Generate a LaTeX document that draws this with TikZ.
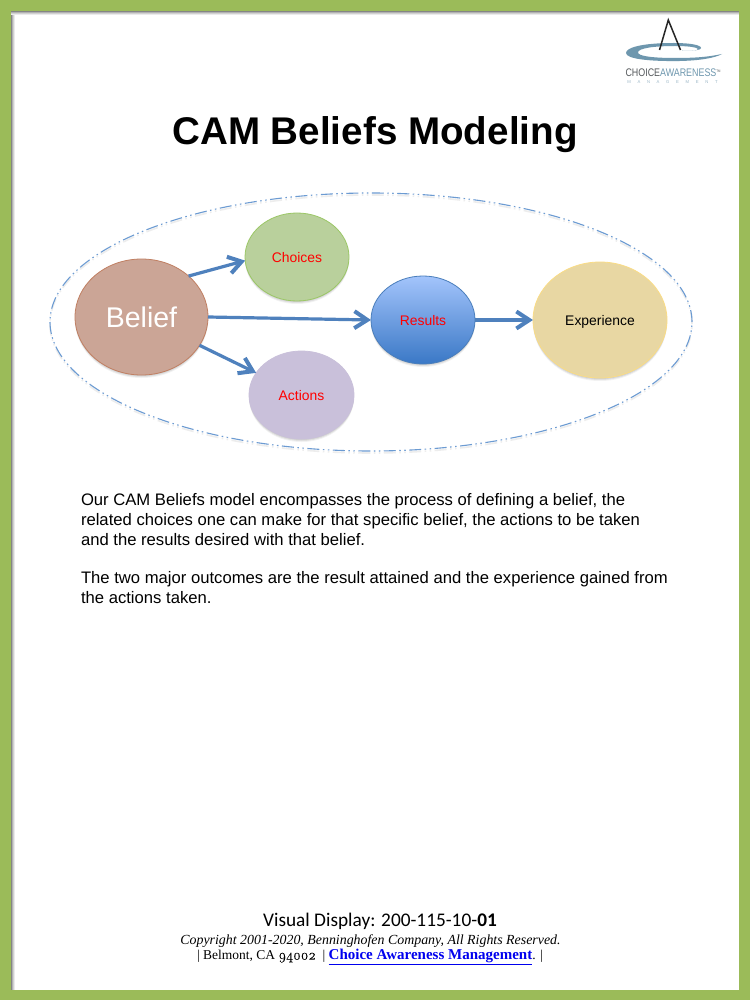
\documentclass[tikz,border=0pt]{standalone}
\usepackage{fontspec}
\setmainfont{Liberation Sans}
\newfontfamily\serifface{Liberation Serif}
\newfontfamily\carlitoface{Carlito}
\newfontfamily\oldnumface{Latin Modern Roman}[Numbers=OldStyle,FakeBold=0.5]
\usetikzlibrary{arrows.meta,shapes.geometric,shadows}
\definecolor{frameGreen}{HTML}{9BBB59}
\definecolor{arrowBlue}{HTML}{4F81BD}
\definecolor{loopBlue}{HTML}{6C9BD2}
\definecolor{logoBlue}{HTML}{6E97AE}
\definecolor{logoGray}{HTML}{55595C}
\definecolor{beliefFill}{HTML}{CBA596}
\definecolor{beliefLine}{HTML}{C07F62}
\definecolor{choiceFill}{HTML}{B9D09C}
\definecolor{choiceLine}{HTML}{9BC766}
\definecolor{actionFill}{HTML}{C9C0DA}
\definecolor{resultTop}{HTML}{A3C4FB}
\definecolor{resultBottom}{HTML}{3A78C6}
\definecolor{resultLine}{HTML}{4A7EBB}
\definecolor{expFill}{HTML}{E8D7A3}
\definecolor{expLine}{HTML}{FADC85}
\definecolor{linkBlue}{HTML}{0000EE}
\tikzset{
  softshadow/.style={
    general shadow={shadow xshift=0pt,shadow yshift=-1pt,fill=black,opacity=.07},
    general shadow={shadow xshift=0pt,shadow yshift=-2pt,fill=black,opacity=.07},
    general shadow={shadow xshift=0pt,shadow yshift=-3pt,fill=black,opacity=.05}},
  bubble/.style={ellipse,inner sep=0pt,outer sep=0pt,line width=.8pt,softshadow,
    font=\fontsize{13.9}{16}\selectfont,text=red,text height=11.7pt,text depth=0pt},
  flow/.style={draw=arrowBlue,line width=3.2pt,-{Straight Barb[length=13pt,width=17pt,line width=4pt]}},
  para/.style={anchor=north west,align=left,inner sep=0pt,outer sep=0pt,font=\fontsize{16.65}{20}\selectfont},
  foot/.style={anchor=center,inner sep=0pt,outer sep=0pt},
  loopline/.style={ellipse,minimum width=642pt,minimum height=258pt,inner sep=0pt,
    dash pattern=on 12pt off 3.5pt on 1.5pt off 3.5pt on 1.5pt off 3.5pt}
}
\begin{document}
\begin{tikzpicture}[x=1pt,y=-1pt]
\useasboundingbox (0,0) rectangle (750,1000);
% page frame
\fill[frameGreen] (0,0) rectangle (750,1000);
\fill[white] (11,11) rectangle (739,990);
\foreach \o/\g in {0/48,1/30,2/18,3/8}{
  \fill[black!\g] (11,11+\o) rectangle (739,12+\o);
  \fill[black!\g] (11+\o,11+\o) rectangle (12+\o,990);
}
% logo
\fill[logoBlue,even odd rule] (674,43) .. controls (640,43) and (626,48) .. (626,53)
   .. controls (626,59) and (650,61.5) .. (680,61)
   .. controls (700,60.5) and (715,58) .. (722,54)
   .. controls (708,57) and (695,58) .. (675,58)
   .. controls (652,58) and (638,56) .. (638,52.5)
   .. controls (638,48) and (655,46) .. (675,46)
   .. controls (690,46) and (697,47.5) .. (698,49)
   .. controls (698,51) and (690,50.5) .. (682,50.5)
   .. controls (695,51) and (701,50) .. (701,48)
   .. controls (701,45) and (690,43) .. (674,43) -- cycle;
\draw[black!85,line width=1.5pt] (659.5,50) -- (668.3,20) -- (680.5,50);
\node[inner sep=0pt,text=logoGray,font=\fontsize{11}{12}\selectfont] (logotext) at (673,72.5) {\scalebox{.81}[1]{CHOICE\textcolor{logoBlue}{AWARENESS}\raisebox{4pt}{\fontsize{3.5}{4}\selectfont TM}}};
\node[inner sep=0pt,text=logoBlue!70,font=\fontsize{4.2}{5}\selectfont] (logosub) at (672.5,82) {M\hspace{6.7pt}A\hspace{6.7pt}N\hspace{6.7pt}A\hspace{6.7pt}G\hspace{6.7pt}E\hspace{6.7pt}M\hspace{6.7pt}E\hspace{6.7pt}N\hspace{6.7pt}T};
% title
\node[inner sep=0pt,font=\bfseries\fontsize{38.6}{44}\selectfont] (title) at (375,135) {CAM Beliefs Modeling};
% enclosing loop
\node[loopline,draw=black!7,line width=1.6pt] (loopshade) at (371,324) {};
\node[loopline,draw=loopBlue,line width=1.1pt] (loop) at (371,322) {};
% bubbles
\node[bubble,minimum width=133pt,minimum height=116pt,fill=beliefFill,draw=beliefLine,text=white,font=\fontsize{28.5}{32}\selectfont,text height=20.5pt] (belief) at (141.5,317) {Belief};
\node[bubble,minimum width=104pt,minimum height=88pt,fill=choiceFill,draw=choiceLine] (choices) at (297,257) {Choices};
\node[bubble,minimum width=105pt,minimum height=88pt,fill=actionFill,draw=actionFill] (actions) at (301.5,395) {Actions};
\node[bubble,minimum width=104pt,minimum height=88pt,top color=resultTop,bottom color=resultBottom,draw=resultLine] (results) at (423,320) {Results};
\node[bubble,minimum width=134pt,minimum height=116pt,fill=expFill,draw=expLine,text=black] (experience) at (600,320) {Experience};
% connectors
\draw[flow] (belief.41) -- (choices.184);
\draw[flow] (belief.east) -- (results.west);
\draw[flow] (belief.-26) -- (actions.154);
\draw[flow] (results.east) -- (experience.west);
% body text
\node[para] (para1) at (81,493) {Our CAM Beliefs model encompasses the process of defining a belief, the\\related choices one can make for that specific belief, the actions to be taken\\and the results desired with that belief.};
\node[para] (para2) at (81,571) {The two major outcomes are the result attained and the experience gained from\\the actions taken.};
% footer
\node[foot,font=\carlitoface\fontsize{19.3}{22}\selectfont] (display) at (380,921) {Visual Display: 200-115-10-\textbf{01}};
\node[foot,font=\serifface\itshape\fontsize{13.9}{16}\selectfont] (copyright) at (370.5,941) {Copyright 2001-2020, Benninghofen Company, All Rights Reserved.};
\node[foot,font=\serifface\fontsize{13.5}{16}\selectfont] (address) at (370,957) {| Belmont, CA {\oldnumface\fontsize{14.5}{16}\selectfont 94002} ~|~\textcolor{linkBlue}{\underline{\fontsize{15}{16}\selectfont\textbf{Choice Awareness Management}}}. |};
\end{tikzpicture}
\end{document}
